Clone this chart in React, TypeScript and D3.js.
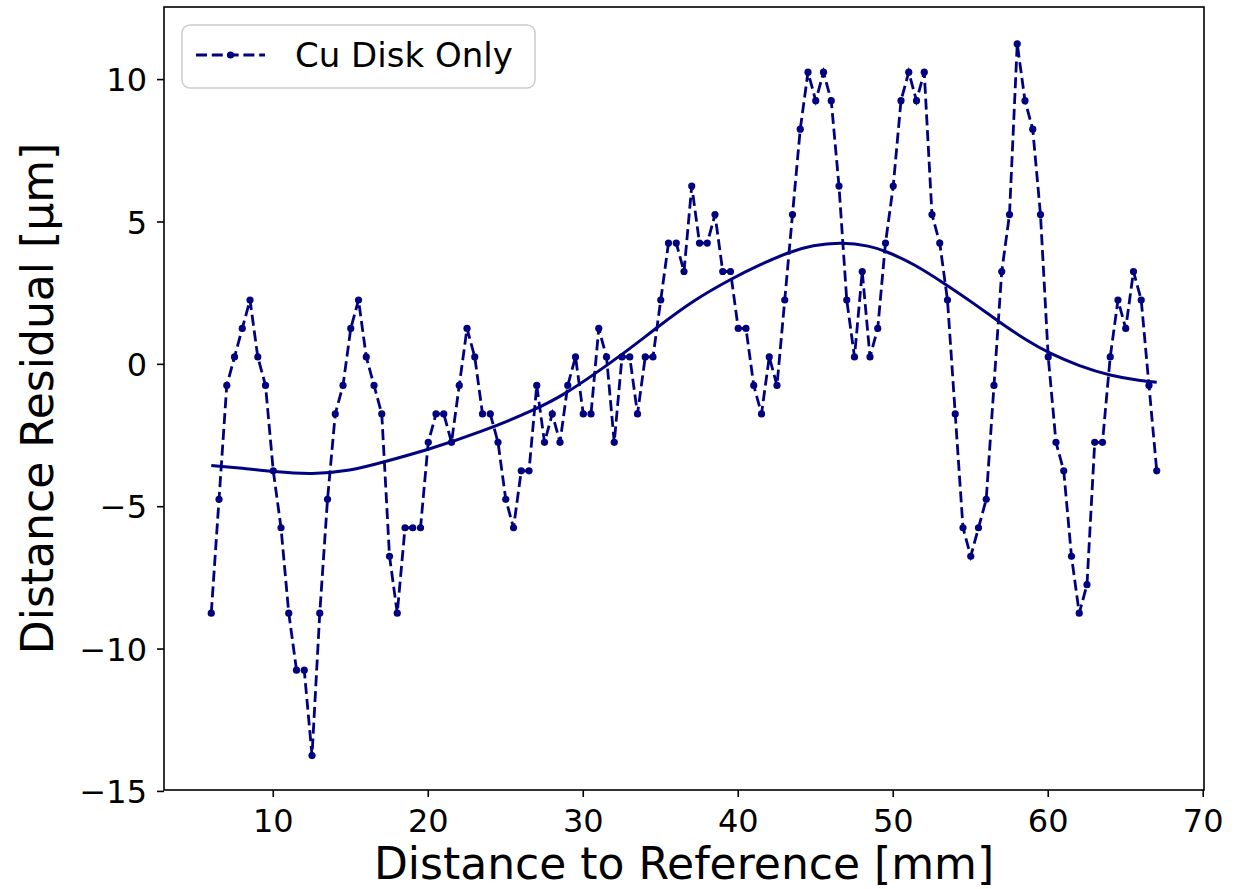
import React from "react";
import * as d3 from "d3";

// Measured residuals (x in mm, y in µm)
const xValues: number[] = [
  6, 6.5, 7, 7.5, 8, 8.5, 9, 9.5, 10, 10.5, 11, 11.5, 12, 12.5, 13, 13.5, 14, 14.5, 15, 15.5,
  16, 16.5, 17, 17.5, 18, 18.5, 19, 19.5, 20, 20.5, 21, 21.5, 22, 22.5, 23, 23.5, 24, 24.5, 25, 25.5,
  26, 26.5, 27, 27.5, 28, 28.5, 29, 29.5, 30, 30.5, 31, 31.5, 32, 32.5, 33, 33.5, 34, 34.5, 35, 35.5,
  36, 36.5, 37, 37.5, 38, 38.5, 39, 39.5, 40, 40.5, 41, 41.5, 42, 42.5, 43, 43.5, 44, 44.5, 45, 45.5,
  46, 46.5, 47, 47.5, 48, 48.5, 49, 49.5, 50, 50.5, 51, 51.5, 52, 52.5, 53, 53.5, 54, 54.5, 55, 55.5,
  56, 56.5, 57, 57.5, 58, 58.5, 59, 59.5, 60, 60.5, 61, 61.5, 62, 62.5, 63, 63.5, 64, 64.5, 65, 65.5,
  66, 66.5, 67,
];

const residuals: number[] = [
  -8.74, -4.74, -0.74, 0.26, 1.26, 2.26, 0.26, -0.74, -3.74, -5.74, -8.74, -10.74, -10.74, -13.74, -8.74, -4.74, -1.74, -0.74, 1.26, 2.26,
  0.26, -0.74, -1.74, -6.74, -8.74, -5.74, -5.74, -5.74, -2.74, -1.74, -1.74, -2.74, -0.74, 1.26, 0.26, -1.74, -1.74, -2.74, -4.74, -5.74,
  -3.74, -3.74, -0.74, -2.74, -1.74, -2.74, -0.74, 0.26, -1.74, -1.74, 1.26, 0.26, -2.74, 0.26, 0.26, -1.74, 0.26, 0.26, 2.26, 4.26,
  4.26, 3.26, 6.26, 4.26, 4.26, 5.26, 3.26, 3.26, 1.26, 1.26, -0.74, -1.74, 0.26, -0.74, 2.26, 5.26, 8.26, 10.26, 9.26, 10.26,
  9.26, 6.26, 2.26, 0.26, 3.26, 0.26, 1.26, 4.26, 6.26, 9.26, 10.26, 9.26, 10.26, 5.26, 4.26, 2.26, -1.74, -5.74, -6.74, -5.74,
  -4.74, -0.74, 3.26, 5.26, 11.26, 9.26, 8.26, 5.26, 0.26, -2.74, -3.74, -6.74, -8.74, -7.74, -2.74, -2.74, 0.26, 2.26, 1.26, 3.26,
  2.26, -0.74, -3.74,
];

// Smooth fit curve
const fitX: number[] = [6, 8, 10, 12.5, 15, 17, 20, 23.3, 26.9, 28.9, 30.75, 32.6, 34.7, 37.1, 39.6, 41.4, 43.2, 44.8, 46.7, 48.5, 49.5, 51.3, 53.3, 55.2, 56.8, 58.6, 60.1, 62, 64, 66, 67];
const fitY: number[] = [-3.55, -3.65, -3.77, -3.87, -3.74, -3.45, -3.0, -2.4, -1.6, -1.02, -0.33, 0.38, 1.27, 2.25, 3.02, 3.5, 3.93, 4.19, 4.29, 4.16, 3.98, 3.54, 2.84, 2.14, 1.5, 0.84, 0.38, -0.06, -0.4, -0.58, -0.63];

const xTicks: number[] = [10, 20, 30, 40, 50, 60, 70];
const yTicks: number[] = [-15, -10, -5, 0, 5, 10];

const seriesLabel = "Cu Disk Only";
const xLabel = "Distance to Reference [mm]";
const yLabel = "Distance Residual [µm]";

const W = 1240;
const H = 889;
const L = 164;
const R = 1204;
const T = 7;
const B = 790;
const COLOR = "#000080";
const FONT = "DejaVu Sans";

export default function App() {
  const x = d3.scaleLinear().domain([2.95, 70.05]).range([L, R]);
  const y = d3.scaleLinear().domain([-14.95, 12.55]).range([B, T]);

  const pts: [number, number][] = xValues.map((v, i) => [v, residuals[i]]);
  const dataLine = d3
    .line<[number, number]>()
    .x((d) => x(d[0]))
    .y((d) => y(d[1]))(pts) as string;

  const fitPts: [number, number][] = fitX.map((v, i) => [v, fitY[i]]);
  const fitLine = d3
    .line<[number, number]>()
    .x((d) => x(d[0]))
    .y((d) => y(d[1]))
    .curve(d3.curveBasis)(fitPts) as string;

  const fmt = (v: number) => (v < 0 ? "\u2212" + Math.abs(v) : String(v));

  return (
    <svg
      width={W}
      height={H}
      style={{ position: "absolute", left: 0, top: 0, background: "#fff" }}
      fontFamily={FONT}
    >
      <rect x={0} y={0} width={W} height={H} fill="#fff" />
      <defs>
        <clipPath id="plotclip">
          <rect x={L} y={T} width={R - L} height={B - T} />
        </clipPath>
      </defs>
      <g clipPath="url(#plotclip)">
        <path d={fitLine} fill="none" stroke={COLOR} strokeWidth={3} />
        <path
          d={dataLine}
          fill="none"
          stroke={COLOR}
          strokeWidth={2.8}
          strokeDasharray="11,4.8"
        />
        {pts.map((d, i) => (
          <circle key={i} cx={x(d[0])} cy={y(d[1])} r={3.6} fill={COLOR} />
        ))}
      </g>

      {/* spines */}
      <rect x={L} y={T} width={R - L} height={B - T} fill="none" stroke="#000" strokeWidth={1.6} />

      {/* x ticks */}
      {xTicks.map((t) => (
        <g key={"x" + t}>
          <line x1={x(t)} x2={x(t)} y1={B} y2={B + 7} stroke="#000" strokeWidth={1.6} />
          <text x={x(t)} y={832} fontSize={32} textAnchor="middle" fill="#000">
            {fmt(t)}
          </text>
        </g>
      ))}

      {/* y ticks */}
      {yTicks.map((t) => (
        <g key={"y" + t}>
          <line x1={L - 7} x2={L} y1={y(t)} y2={y(t)} stroke="#000" strokeWidth={1.6} />
          <text x={147} y={y(t) + 11.6} fontSize={32} textAnchor="end" fill="#000">
            {fmt(t)}
          </text>
        </g>
      ))}

      {/* axis labels */}
      <text x={(L + R) / 2} y={879} fontSize={44} textAnchor="middle" fill="#000">
        {xLabel}
      </text>
      <text
        transform={`translate(53, ${(T + B) / 2}) rotate(-90)`}
        fontSize={44}
        textAnchor="middle"
        fill="#000"
      >
        {yLabel}
      </text>

      {/* legend */}
      <g>
        <rect
          x={182}
          y={25}
          width={353}
          height={63}
          rx={8}
          ry={8}
          fill="#fff"
          fillOpacity={0.8}
          stroke="#cccccc"
          strokeWidth={1.5}
        />
        <line
          x1={196}
          x2={265}
          y1={55}
          y2={55}
          stroke={COLOR}
          strokeWidth={2.8}
          strokeDasharray="11,4.8"
        />
        <circle cx={230.5} cy={55} r={3.6} fill={COLOR} />
        <text x={295} y={67} fontSize={34} fill="#000">
          {seriesLabel}
        </text>
      </g>
    </svg>
  );
}
